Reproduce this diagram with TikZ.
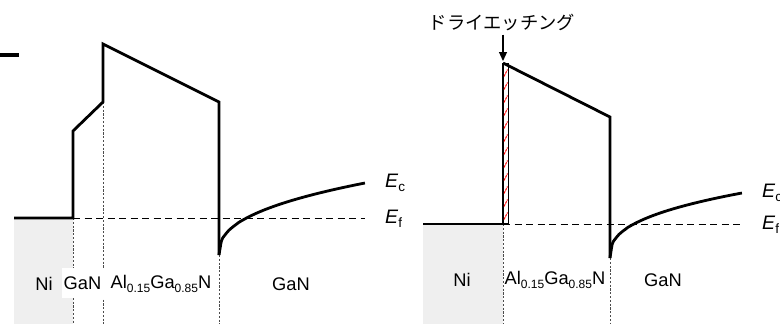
\documentclass[tikz,border=0pt]{standalone}
\usepackage{fontspec}
\setmainfont{Liberation Sans}
\newfontfamily\jpfont{Noto Sans CJK JP}
\usetikzlibrary{arrows.meta}
\newcommand\lowsub[1]{\raisebox{-0.18em}{\fontsize{12}{12}\selectfont #1}}
\newcommand\esub[1]{\raisebox{-0.22em}{\fontsize{13.5}{13.5}\selectfont #1}}
\definecolor{nigray}{HTML}{EFEFEF}
\begin{document}
\begin{tikzpicture}[x=1pt,y=-1pt,
  band/.style={line width=2.8pt,line join=miter},
  fermi/.style={line width=0.9pt,dash pattern=on 7pt off 4.5pt},
  bound/.style={line width=0.8pt,gray!60!black,dash pattern=on 2.2pt off 1.6pt},
  lbl/.style={font=\fontsize{18.3}{21}\selectfont,inner sep=1pt},
  elbl/.style={font=\fontsize{19.5}{22}\selectfont,anchor=west,inner sep=0pt}]
\useasboundingbox (0,0) rectangle (780,324);
% remnant at top left
\draw[line width=3.2pt] (0,55) -- (19,55);
% ================= left diagram =================
\fill[nigray] (14,218) rectangle (73,324);
\draw[bound] (73,218) -- (73,324);
\draw[bound] (103,102) -- (103,324);
\draw[bound] (219,255) -- (219,324);
\draw[fermi] (73,218) -- (365,218);
\draw[band] (14,218) -- (73,218) -- (73,131) -- (103,102) -- (103,44) -- (219,102) -- (219,255);
\draw[band,line cap=butt,domain=0:1,samples=60,smooth,variable=\t]
  plot ({219+146*\t},{255-72*(\t)^0.4});
\node[lbl] (niL) at (44,284) {Ni};
\node[lbl,fill=white,minimum width=42pt,minimum height=30pt] (ganL1) at (82.5,283) {GaN};
\node[lbl] (alL) at (161,284) {Al\lowsub{0.15}Ga\lowsub{0.85}N};
\node[lbl] (ganL2) at (291,284) {GaN};
\node[elbl] (ecL) at (385,183) {\textit{E}\esub{c}};
\node[elbl] (efL) at (385,219) {\textit{E}\esub{f}};
% ================= right diagram =================
\fill[nigray] (423,224) rectangle (503,324);
\draw[bound] (503,224) -- (503,324);
\draw[bound] (610,258) -- (610,324);
\draw[fermi] (503,224) -- (742,224);
% etched layer
\draw[line width=1.3pt] (503,64) rectangle (508.5,224);
\foreach \yy in {73,86,99,112,125,138,151,164,177,190,203,216}
  \draw[red,line width=1pt,dash pattern=on 2.5pt off 0.8pt] (504,\yy+3.5) -- (507.5,\yy-3.5);
\draw[band] (423,224) -- (503,224);
\draw[band] (503,63) -- (610,117) -- (610,258);
\draw[band,line cap=butt,domain=0:1,samples=60,smooth,variable=\t]
  plot ({610+132*\t},{258-65*(\t)^0.38});
\node[lbl] (niR) at (462,280) {Ni};
\node[lbl] (alR) at (555,280) {Al\lowsub{0.15}Ga\lowsub{0.85}N};
\node[lbl] (ganR) at (663,280) {GaN};
\node[elbl] (ecR) at (762,193) {\textit{E}\esub{c}};
\node[elbl] (efR) at (762,225) {\textit{E}\esub{f}};
\node[font=\jpfont\fontsize{18.3}{21}\selectfont,inner sep=1pt] (etch) at (502,22) {ドライエッチング};
\coordinate (tip) at (503,61);
\draw[line width=1.2pt,-{Triangle[length=9pt,width=8pt]}] (etch.south -| tip) ++(0,3) -- (tip);
\end{tikzpicture}
\end{document}
